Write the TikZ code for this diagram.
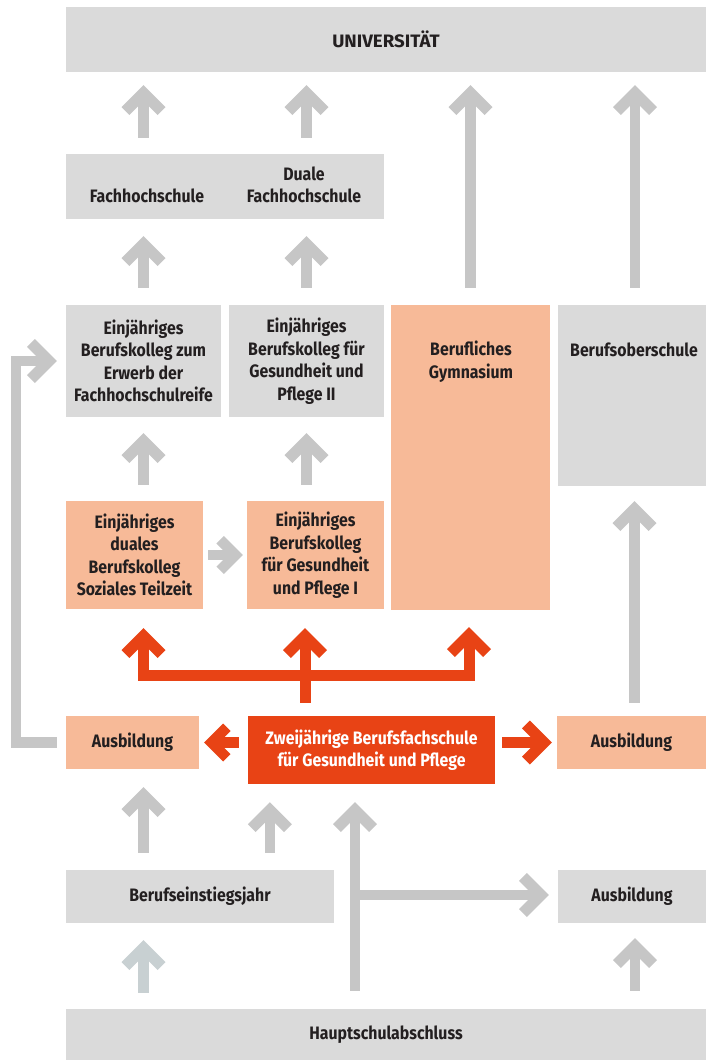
\documentclass[tikz,border=0pt]{standalone}
\usepackage{fontspec}
\setmainfont{Fira Sans}[FakeStretch=0.88]
\usetikzlibrary{arrows.meta}
\definecolor{boxgray}{HTML}{DADADA}
\definecolor{arrgray}{HTML}{C6C6C6}
\definecolor{arrblue}{HTML}{C8D0D2}
\definecolor{lorange}{HTML}{F7BA98}
\definecolor{dorange}{HTML}{E84315}
\definecolor{txt}{HTML}{231F20}
\pgfdeclarearrow{
  name = Chev,
  setup code = {
    \pgfarrowssettipend{0pt}
    \pgfarrowssetlineend{-10pt}
    \pgfarrowssetbackend{-29.8pt}
  },
  drawing code = {
    \pgfpathmoveto{\pgfqpoint{0pt}{0pt}}
    \pgfpathlineto{\pgfqpoint{-22pt}{22pt}}
    \pgfpathlineto{\pgfqpoint{-29.8pt}{14.2pt}}
    \pgfpathlineto{\pgfqpoint{-15.6pt}{0pt}}
    \pgfpathlineto{\pgfqpoint{-29.8pt}{-14.2pt}}
    \pgfpathlineto{\pgfqpoint{-22pt}{-22pt}}
    \pgfpathclose
    \pgfusepathqfill
  }
}
\pgfdeclarearrow{
  name = ChevS,
  setup code = {
    \pgfarrowssettipend{0pt}
    \pgfarrowssetlineend{-9pt}
    \pgfarrowssetbackend{-26pt}
  },
  drawing code = {
    \pgfpathmoveto{\pgfqpoint{0pt}{0pt}}
    \pgfpathlineto{\pgfqpoint{-19pt}{19pt}}
    \pgfpathlineto{\pgfqpoint{-26.4pt}{11.6pt}}
    \pgfpathlineto{\pgfqpoint{-14.8pt}{0pt}}
    \pgfpathlineto{\pgfqpoint{-26.4pt}{-11.6pt}}
    \pgfpathlineto{\pgfqpoint{-19pt}{-19pt}}
    \pgfpathclose
    \pgfusepathqfill
  }
}
\tikzset{
  every node/.style={font=\bfseries\fontsize{18}{22.5}\selectfont, text=txt, align=center, inner sep=0pt},
  gbox/.style={fill=boxgray},
  obox/.style={fill=lorange},
  dbox/.style={fill=dorange, text=white},
  garr/.style={draw=arrgray, line width=10.5pt, line join=miter, -{Chev}},
  oarr/.style={draw=dorange, line width=11pt, line join=miter, -{Chev}},
}
\begin{document}
\begin{tikzpicture}[x=1pt, y=-1pt]
\useasboundingbox (0,0) rectangle (706,1060);
% boxes
\node[gbox, minimum width=640pt, minimum height=65pt] (univ) at (386,39.5) {\scalebox{1.18}[1]{UNIVERSITÄT}};
\node[gbox, minimum width=318pt, minimum height=65pt] (fhbox) at (225,186.5) {};
\node (fh) at (147,196) {Fachhochschule};
\node (dfh) at (304,185) {Duale\\Fachhochschule};
\node[gbox, minimum width=155pt, minimum height=112pt] (A) at (143.5,361) {Einjähriges\\Berufskolleg zum\\Erwerb der\\Fachhochschulreife};
\node[gbox, minimum width=155pt, minimum height=112pt] (B) at (306.5,361) {Einjähriges\\Berufskolleg für\\Gesundheit und\\Pflege II};
\node[obox, minimum width=159pt, minimum height=305pt] (gym) at (470.5,457.5) {};
\node (gymt) at (471,361.5) {Berufliches\\Gymnasium};
\node[gbox, minimum width=148pt, minimum height=181pt] (bos) at (632,395.5) {};
\node (bost) at (634,350) {Berufsoberschule};
\node[obox, minimum width=137pt, minimum height=108pt] (C) at (134.5,555) {Einjähriges\\duales\\Berufskolleg\\Soziales Teilzeit};
\node[obox, minimum width=137pt, minimum height=108pt] (D) at (315.5,555) {Einjähriges\\Berufskolleg\\für Gesundheit\\und Pflege I};
\node[obox, minimum width=133pt, minimum height=53pt] (ausL) at (132.5,742.5) {Ausbildung};
\node[dbox, minimum width=247pt, minimum height=68pt] (zw) at (371.5,750) {Zweijährige Berufsfachschule\\für Gesundheit und Pflege};
\node[obox, minimum width=149pt, minimum height=53pt] (ausR) at (631.5,742.5) {Ausbildung};
\node[gbox, minimum width=268pt, minimum height=53pt] (bej) at (200,896.5) {Berufseinstiegsjahr};
\node[gbox, minimum width=148pt, minimum height=53pt] (ausB) at (632,896.5) {Ausbildung};
\node[gbox, minimum width=640pt, minimum height=51pt] (haupt) at (386,1034.5) {Hauptschulabschluss};
% gray arrows
\draw[garr, shorten <=16pt, shorten >=13pt] (A.north |- fhbox.north) -- (A.north |- univ.south);
\draw[garr, shorten <=16pt, shorten >=13pt] (B.north |- fhbox.north) -- (B.north |- univ.south);
\draw[garr, shorten <=17pt, shorten >=17pt] (A.north) -- (A.north |- fhbox.south);
\draw[garr, shorten <=17pt, shorten >=17pt] (B.north) -- (B.north |- fhbox.south);
\draw[garr, shorten <=17pt, shorten >=13pt] (gym.north) -- (gym.north |- univ.south);
\draw[garr, shorten <=17pt, shorten >=13pt] ([xshift=3pt]bos.north) -- ([xshift=3pt]bos.north |- univ.south);
\draw[garr, shorten <=16pt, shorten >=16pt] (A.south |- C.north) -- (A.south);
\draw[garr, shorten <=16pt, shorten >=16pt] (B.south |- D.north) -- (B.south);
\draw[garr, -{ChevS}, shorten <=5pt, shorten >=4pt] (C.east) -- (C.east -| D.west);
\draw[garr, shorten <=13pt, shorten >=15pt] ([xshift=3pt]ausR.north) -- ([xshift=3pt]ausR.north |- bos.south);
\draw[garr, shorten <=9pt, shorten >=9pt] (ausL.west) -| ([xshift=-50pt]A.west) -- (A.west);
\draw[garr, shorten <=17pt, shorten >=18pt] (A.south |- bej.north) -- (A.south |- ausL.south);
\draw[garr, shorten <=17pt, shorten >=18pt] ([xshift=22pt]zw.south west |- bej.north) -- ([xshift=22pt]zw.south west);
\coordinate (br) at (355,895);
\draw[garr, shorten <=18pt, shorten >=18pt] (br |- haupt.north) -- (br |- zw.south);
\draw[garr, shorten >=9pt] (br) -- (br -| ausB.west);
\draw[garr, draw=arrblue, shorten <=16pt, shorten >=17pt] (A.south |- haupt.north) -- (A.south |- bej.south);
\draw[garr, shorten <=18pt, shorten >=15pt] ([xshift=3pt]ausB.south |- haupt.north) -- ([xshift=3pt]ausB.south);
% orange arrows
\draw[oarr, -{ChevS}, shorten <=9pt, shorten >=5pt] (zw.west |- ausL.east) -- (ausL.east);
\draw[oarr, shorten <=7pt, shorten >=5pt] (zw.east |- ausR.west) -- (ausR.west);
\coordinate (tj) at (305,675);
\draw[oarr, shorten <=13pt, shorten >=19pt] (tj |- zw.north) -- (tj |- D.south);
\draw[oarr, shorten >=19pt] (tj) -| (A.south |- C.south);
\draw[oarr, shorten >=17pt] (tj) -| ([xshift=-1.5pt]gym.south);
\end{tikzpicture}
\end{document}
